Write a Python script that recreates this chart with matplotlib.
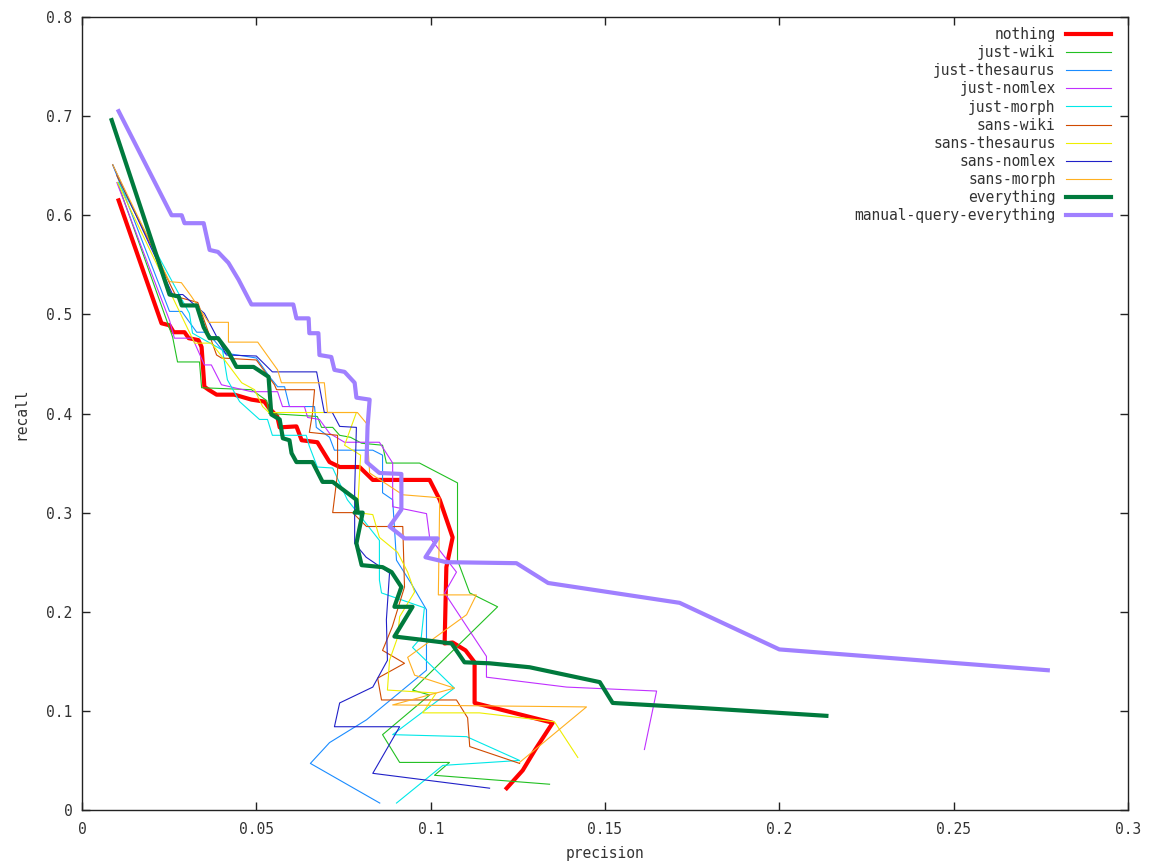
import numpy as np
import matplotlib
matplotlib.use("Agg")
import matplotlib.pyplot as plt

# precision / recall curves

nothing_x = [0.0105, 0.0228, 0.0251, 0.0263, 0.0294, 0.0306, 0.0334, 0.0343, 0.0351, 0.0363,
             0.0386, 0.0437, 0.0486, 0.0523, 0.0535, 0.0549, 0.0560, 0.0567, 0.0615, 0.0630,
             0.0675, 0.0710, 0.0739, 0.0796, 0.0834, 0.0997, 0.1026, 0.1063, 0.1045, 0.1040,
             0.1063, 0.1100, 0.1126, 0.1126, 0.1350, 0.1300, 0.1264, 0.1218]
nothing_y = [0.615, 0.491, 0.489, 0.482, 0.482, 0.476, 0.474, 0.467, 0.427, 0.424,
             0.419, 0.419, 0.414, 0.412, 0.406, 0.401, 0.397, 0.386, 0.387, 0.373,
             0.371, 0.351, 0.346, 0.346, 0.333, 0.333, 0.313, 0.275, 0.245, 0.168,
             0.169, 0.161, 0.149, 0.108, 0.088, 0.061, 0.040, 0.022]

just_wiki_x = [0.0102, 0.0260, 0.0274, 0.0337, 0.0343, 0.0486, 0.0530, 0.0536, 0.0675, 0.0687,
               0.0719, 0.0739, 0.0770, 0.0802, 0.0862, 0.0873, 0.0968, 0.1077, 0.1077, 0.1112,
               0.1192, 0.0948, 0.0997, 0.0862, 0.0911, 0.1054, 0.1011, 0.1341]
just_wiki_y = [0.633, 0.477, 0.452, 0.452, 0.426, 0.424, 0.413, 0.400, 0.397, 0.386,
               0.386, 0.378, 0.376, 0.370, 0.368, 0.350, 0.350, 0.330, 0.252, 0.219,
               0.205, 0.121, 0.116, 0.076, 0.048, 0.048, 0.035, 0.026]

just_thes_x = [0.0088, 0.0251, 0.0286, 0.0329, 0.0360, 0.0409, 0.0500, 0.0538, 0.0561, 0.0581,
               0.0595, 0.0667, 0.0672, 0.0710, 0.0724, 0.0834, 0.0862, 0.0862, 0.0891, 0.0902,
               0.0945, 0.0988, 0.0988, 0.0816, 0.0710, 0.0655, 0.0854]
just_thes_y = [0.651, 0.503, 0.503, 0.482, 0.482, 0.461, 0.456, 0.437, 0.427, 0.427,
               0.407, 0.407, 0.386, 0.376, 0.363, 0.363, 0.358, 0.320, 0.313, 0.252,
               0.228, 0.202, 0.141, 0.091, 0.068, 0.047, 0.007]

just_nomlex_x = [0.0100, 0.0251, 0.0265, 0.0317, 0.0351, 0.0371, 0.0400, 0.0486, 0.0561, 0.0575,
                 0.0638, 0.0647, 0.0681, 0.0710, 0.0753, 0.0853, 0.0891, 0.0891, 0.0988, 0.0997,
                 0.1074, 0.1040, 0.1160, 0.1160, 0.1390, 0.1648, 0.1613]
just_nomlex_y = [0.633, 0.494, 0.476, 0.476, 0.449, 0.449, 0.429, 0.422, 0.422, 0.407,
                 0.407, 0.396, 0.394, 0.380, 0.371, 0.371, 0.350, 0.306, 0.299, 0.275,
                 0.240, 0.219, 0.155, 0.134, 0.124, 0.120, 0.061]

just_morph_x = [0.0105, 0.0308, 0.0317, 0.0403, 0.0417, 0.0452, 0.0509, 0.0532, 0.0546, 0.0643,
                0.0652, 0.0675, 0.0719, 0.0761, 0.0853, 0.0853, 0.0859, 0.0982, 0.0973, 0.0948,
                0.1068, 0.0891, 0.1103, 0.1255, 0.1035, 0.0902]
just_morph_y = [0.633, 0.501, 0.481, 0.464, 0.434, 0.412, 0.394, 0.394, 0.378, 0.378,
                0.367, 0.346, 0.345, 0.313, 0.272, 0.232, 0.219, 0.204, 0.174, 0.164,
                0.123, 0.076, 0.074, 0.050, 0.045, 0.007]

sans_wiki_x = [0.0100, 0.0270, 0.0332, 0.0386, 0.0400, 0.0500, 0.0552, 0.0558, 0.0667, 0.0661,
               0.0652, 0.0733, 0.0733, 0.0719, 0.0776, 0.0816, 0.0920, 0.0925, 0.0890, 0.0862,
               0.0925, 0.0848, 0.0859, 0.1074, 0.1106, 0.1112, 0.1255]
sans_wiki_y = [0.640, 0.518, 0.512, 0.459, 0.456, 0.454, 0.429, 0.424, 0.424, 0.400,
               0.381, 0.378, 0.340, 0.300, 0.300, 0.286, 0.286, 0.225, 0.185, 0.161,
               0.148, 0.133, 0.111, 0.111, 0.093, 0.064, 0.047]

sans_thes_x = [0.0102, 0.0323, 0.0371, 0.0409, 0.0458, 0.0495, 0.0518, 0.0536, 0.0787, 0.0753,
               0.0799, 0.0790, 0.0834, 0.0853, 0.0905, 0.0934, 0.0954, 0.0911, 0.0905, 0.0882,
               0.0876, 0.1016, 0.0977, 0.1140, 0.1355, 0.1422]
sans_thes_y = [0.633, 0.471, 0.471, 0.454, 0.431, 0.424, 0.407, 0.401, 0.401, 0.368,
               0.358, 0.300, 0.298, 0.275, 0.260, 0.240, 0.220, 0.195, 0.174, 0.151,
               0.121, 0.118, 0.098, 0.098, 0.089, 0.053]

sans_nomlex_x = [0.0088, 0.0260, 0.0289, 0.0351, 0.0414, 0.0500, 0.0546, 0.0673, 0.0695, 0.0718,
                 0.0739, 0.0787, 0.0782, 0.0782, 0.0815, 0.0882, 0.0873, 0.0876, 0.0834, 0.0739,
                 0.0724, 0.0911, 0.0834, 0.1169]
sans_nomlex_y = [0.651, 0.520, 0.520, 0.501, 0.459, 0.458, 0.442, 0.442, 0.401, 0.401,
                 0.387, 0.386, 0.323, 0.269, 0.255, 0.239, 0.192, 0.151, 0.124, 0.108,
                 0.084, 0.084, 0.037, 0.022]

sans_morph_x = [0.0088, 0.0251, 0.0285, 0.0314, 0.0363, 0.0420, 0.0420, 0.0504, 0.0561, 0.0572,
                0.0695, 0.0704, 0.0790, 0.0816, 0.0825, 0.0920, 0.1026, 0.1022, 0.1131, 0.1103,
                0.0934, 0.0954, 0.1068, 0.0891, 0.1447, 0.1255]
sans_morph_y = [0.651, 0.533, 0.532, 0.518, 0.492, 0.492, 0.472, 0.472, 0.444, 0.431,
                0.431, 0.401, 0.401, 0.390, 0.340, 0.318, 0.315, 0.217, 0.217, 0.197,
                0.154, 0.136, 0.123, 0.106, 0.104, 0.048]

everything_x = [0.0085, 0.0251, 0.0277, 0.0286, 0.0329, 0.0349, 0.0366, 0.0390, 0.0420, 0.0443,
                0.0492, 0.0535, 0.0543, 0.0567, 0.0576, 0.0595, 0.0601, 0.0615, 0.0661, 0.0690,
                0.0719, 0.0787, 0.0790, 0.0782, 0.0805, 0.0787, 0.0802, 0.0862, 0.0888, 0.0916,
                0.0896, 0.0948, 0.0896, 0.0968, 0.1060, 0.1097, 0.1169, 0.1284, 0.1485, 0.1522,
                0.1772, 0.2135]
everything_y = [0.696, 0.520, 0.518, 0.509, 0.509, 0.487, 0.476, 0.476, 0.462, 0.447,
                0.447, 0.437, 0.399, 0.394, 0.375, 0.373, 0.360, 0.351, 0.351, 0.331,
                0.331, 0.313, 0.303, 0.300, 0.300, 0.269, 0.247, 0.245, 0.240, 0.225,
                0.205, 0.205, 0.175, 0.172, 0.168, 0.149, 0.148, 0.144, 0.129, 0.108,
                0.103, 0.095]

manual_x = [0.0105, 0.0257, 0.0286, 0.0294, 0.0349, 0.0366, 0.0390, 0.0420, 0.0449, 0.0486,
            0.0606, 0.0615, 0.0650, 0.0652, 0.0678, 0.0681, 0.0715, 0.0724, 0.0753, 0.0782,
            0.0787, 0.0825, 0.0819, 0.0816, 0.0853, 0.0916, 0.0916, 0.0882, 0.0925, 0.1020,
            0.0985, 0.1045, 0.1246, 0.1337, 0.1714, 0.2000, 0.2770]
manual_y = [0.705, 0.600, 0.600, 0.592, 0.592, 0.565, 0.563, 0.552, 0.535, 0.510,
            0.510, 0.496, 0.496, 0.481, 0.481, 0.459, 0.457, 0.444, 0.442, 0.431,
            0.416, 0.414, 0.387, 0.351, 0.340, 0.339, 0.303, 0.286, 0.274, 0.274,
            0.255, 0.250, 0.249, 0.229, 0.209, 0.162, 0.141]

series = [
    ("nothing", nothing_x, nothing_y, "#ff0000", 3.0),
    ("just-wiki", just_wiki_x, just_wiki_y, "#22c022", 0.8),
    ("just-thesaurus", just_thes_x, just_thes_y, "#1a8cff", 0.8),
    ("just-nomlex", just_nomlex_x, just_nomlex_y, "#c030ff", 0.8),
    ("just-morph", just_morph_x, just_morph_y, "#00e8e8", 0.8),
    ("sans-wiki", sans_wiki_x, sans_wiki_y, "#d04a00", 0.8),
    ("sans-thesaurus", sans_thes_x, sans_thes_y, "#eeee00", 0.8),
    ("sans-nomlex", sans_nomlex_x, sans_nomlex_y, "#2020c8", 0.8),
    ("sans-morph", sans_morph_x, sans_morph_y, "#ffb020", 0.8),
    ("everything", everything_x, everything_y, "#007a3d", 3.0),
    ("manual-query-everything", manual_x, manual_y, "#a080ff", 3.0),
]

plt.rcParams['font.family'] = ['DejaVu Sans Mono']
plt.rcParams['font.size'] = 10.5

fig = plt.figure(figsize=(11.49, 8.65), dpi=100)
ax = fig.add_axes([82 / 1149, 55 / 865, 1046 / 1149, 793 / 865])

for name, xs, ys, col, lw in series:
    ax.plot(xs, ys, color=col, linewidth=lw, label=name)

ax.set_xlim(0, 0.3)
ax.set_ylim(0, 0.8)
ax.set_xticks([0, 0.05, 0.1, 0.15, 0.2, 0.25, 0.3])
ax.set_xticklabels(["0", "0.05", "0.1", "0.15", "0.2", "0.25", "0.3"])
ax.set_yticks(np.arange(0, 0.81, 0.1))
ax.set_yticklabels(["0", "0.1", "0.2", "0.3", "0.4", "0.5", "0.6", "0.7", "0.8"])
ax.tick_params(direction='in', length=6, width=1, top=True, right=True,
               colors='#222222', labelcolor='#333333')
ax.tick_params(axis='x', pad=9)
ax.tick_params(axis='y', pad=7)
for sp in ax.spines.values():
    sp.set_linewidth(1)
    sp.set_color('#222222')

ax.set_xlabel("precision", color='#333333', labelpad=6)
ax.set_ylabel("recall", color='#333333', labelpad=13)

ax.legend(loc='upper right', bbox_to_anchor=(0.9837, 0.987), frameon=False,
          markerfirst=False, handlelength=3.1, handletextpad=0.7,
          labelspacing=0.21, borderpad=0, borderaxespad=0, fontsize=10.5,
          labelcolor='#333333')

fig.savefig("out.png", dpi=100)
